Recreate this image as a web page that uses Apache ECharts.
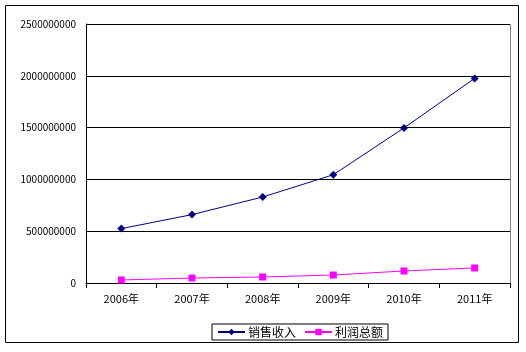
<!DOCTYPE html>
<html>
<head>
<meta charset="utf-8">
<script src="https://cdn.jsdelivr.net/npm/echarts@6/dist/echarts.min.js"></script>
<style>
  html, body { margin: 0; padding: 0; background: #fff; }
  #chart { width: 526px; height: 352px; }
</style>
</head>
<body>
<div id="chart"></div>
<script>
const years = ['2006年', '2007年', '2008年', '2009年', '2010年', '2011年'];
const sales = [525000000, 660000000, 830000000, 1045000000, 1497000000, 1975000000];
const profit = [29000000, 48000000, 58000000, 77000000, 116000000, 145000000];

const chart = echarts.init(document.getElementById('chart'));

const option = {
  animation: false,
  textStyle: { fontFamily: '"Noto Sans CJK SC", sans-serif' },
  graphic: [
    {
      type: 'rect',
      shape: { x: 5.5, y: 5.5, width: 513, height: 337 },
      style: { fill: 'none', stroke: '#000', lineWidth: 1 },
      silent: true
    },
    {
      // plot area border (top/right in grey)
      type: 'rect',
      shape: { x: 86.5, y: 24.5, width: 424, height: 259 },
      style: { fill: 'none', stroke: '#808080', lineWidth: 1 },
      silent: true,
      z: -1
    }
  ],
  legend: {
    bottom: 12,
    left: 212,
    padding: [2, 5, 2, 5],
    borderColor: '#000',
    borderWidth: 1,
    itemWidth: 27,
    itemHeight: 8,
    itemGap: 8,
    textStyle: { color: '#000', fontSize: 12, padding: [0, 0, 0, -2] },
    data: ['销售收入', '利润总额']
  },
  grid: {
    left: 86,
    top: 24,
    right: 16,
    bottom: 69,
    containLabel: false
  },
  xAxis: {
    type: 'category',
    data: years,
    boundaryGap: true,
    axisLine: { lineStyle: { color: '#000', width: 1 } },
    axisTick: { show: true, length: 5, lineStyle: { color: '#000' } },
    axisLabel: { color: '#000', fontSize: 11, margin: 10 },
    splitLine: { show: false }
  },
  yAxis: {
    type: 'value',
    min: 0,
    max: 2500000000,
    interval: 500000000,
    axisLine: { show: true, lineStyle: { color: '#000', width: 1 } },
    axisTick: { show: false },
    axisLabel: {
      color: '#000',
      fontSize: 10,
      margin: 10,
      formatter: function (v) { return String(v); }
    },
    splitLine: { lineStyle: { color: '#000', width: 1 } }
  },
  series: [
    {
      name: '销售收入',
      type: 'line',
      data: sales,
      symbol: 'diamond',
      symbolSize: 8,
      itemStyle: { color: '#000080' },
      lineStyle: { color: '#000080', width: 1 }
    },
    {
      name: '利润总额',
      type: 'line',
      data: profit,
      symbol: 'rect',
      symbolSize: 7,
      itemStyle: { color: '#ff00ff' },
      lineStyle: { color: '#ff00ff', width: 1 }
    }
  ]
};

chart.setOption(option);
</script>
</body>
</html>
